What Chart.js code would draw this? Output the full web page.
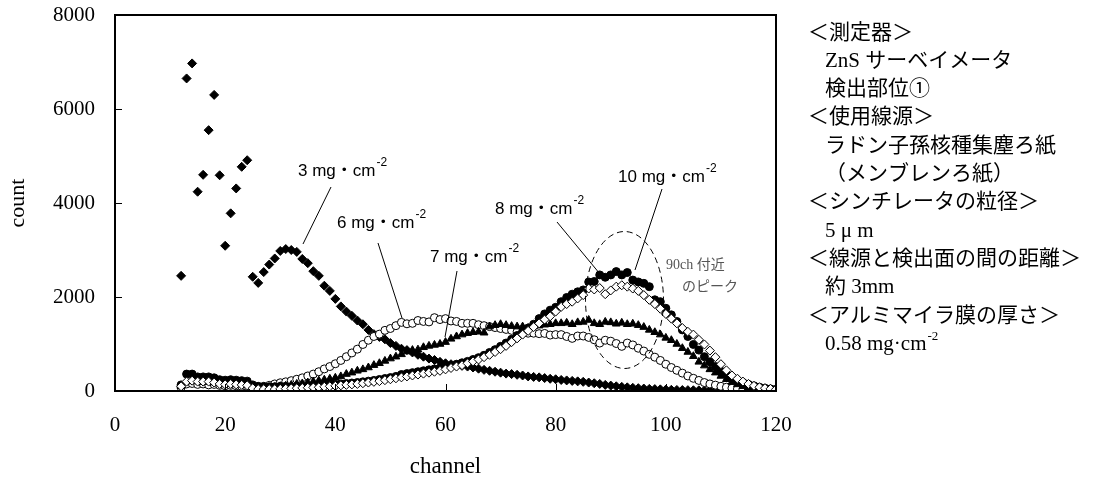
<!DOCTYPE html>
<html>
<head>
<meta charset="utf-8">
<script src="https://cdn.jsdelivr.net/npm/chart.js@4"></script>
<style>
  body { margin: 0; background: #fff; }
  canvas { display: block; }
</style>
</head>
<body>
<canvas id="spectrumChart" width="1115" height="481"></canvas>
<script>
// channel 12 .. 120
const channels = [
    12, 13, 14, 15, 16, 17, 18, 19, 20, 21,
    22, 23, 24, 25, 26, 27, 28, 29, 30, 31,
    32, 33, 34, 35, 36, 37, 38, 39, 40, 41,
    42, 43, 44, 45, 46, 47, 48, 49, 50, 51,
    52, 53, 54, 55, 56, 57, 58, 59, 60, 61,
    62, 63, 64, 65, 66, 67, 68, 69, 70, 71,
    72, 73, 74, 75, 76, 77, 78, 79, 80, 81,
    82, 83, 84, 85, 86, 87, 88, 89, 90, 91,
    92, 93, 94, 95, 96, 97, 98, 99, 100, 101,
    102, 103, 104, 105, 106, 107, 108, 109, 110, 111,
    112, 113, 114, 115, 116, 117, 118, 119, 120
];

const counts3mg = [
    2450, 6650, 6970, 4240, 4600, 5550, 6300, 4590, 3090, 3780,
    4310, 4770, 4910, 2430, 2300, 2530, 2690, 2820, 2980, 3020,
    3000, 2960, 2810, 2720, 2550, 2450, 2240, 2130, 1960, 1800,
    1690, 1600, 1500, 1420, 1300, 1210, 1150, 1100, 1020, 960,
    900, 870, 820, 770, 730, 690, 660, 620, 590, 570,
    550, 535, 520, 500, 475, 450, 430, 410, 390, 370,
    360, 345, 330, 310, 300, 290, 275, 260, 250, 235,
    225, 215, 205, 195, 180, 165, 150, 130, 115, 100,
    88, 78, 68, 60, 52, 45, 40, 35, 30, 25,
    22, 20, 18, 16, 14, 12, 10, 10, 8, 8,
    6, 6, 5, 5, 4, 4, 3, 3, 3
];

const counts6mg = [
    80, 150, 160, 140, 150, 130, 140, 120, 110, 120,
    110, 100, 100, 80, 80, 100, 120, 150, 175, 195,
    220, 250, 280, 320, 360, 410, 470, 520, 580, 650,
    730, 810, 890, 990, 1080, 1160, 1210, 1290, 1330, 1390,
    1460, 1430, 1440, 1500, 1480, 1470, 1560, 1520, 1540, 1490,
    1480, 1440, 1440, 1440, 1410, 1390, 1370, 1350, 1330, 1310,
    1290, 1260, 1240, 1230, 1230, 1220, 1225, 1190, 1200, 1200,
    1160, 1120, 1170, 1170, 1140, 1090, 1020, 1080, 1060, 1010,
    950, 1020, 980, 910, 850, 780, 720, 650, 570, 500,
    440, 380, 320, 270, 225, 180, 150, 125, 100, 80,
    60, 45, 35, 25, 20, 15, 10, 8, 5
];

const counts7mg = [
    100, 200, 220, 200, 190, 200, 180, 170, 160, 150,
    160, 140, 130, 80, 60, 60, 70, 80, 100, 110,
    130, 150, 160, 180, 200, 220, 240, 260, 280, 310,
    360, 390, 430, 460, 500, 550, 590, 640, 690, 730,
    780, 840, 870, 880, 930, 960, 980, 1000, 1040, 1110,
    1160, 1200, 1230, 1250, 1260, 1240, 1370, 1400, 1420, 1400,
    1380, 1370, 1370, 1340, 1380, 1390, 1410, 1420, 1440, 1440,
    1450, 1420, 1460, 1470, 1510, 1440, 1420, 1470, 1460, 1430,
    1450, 1420, 1430, 1400, 1360, 1300, 1250, 1200, 1130, 1080,
    1000, 910, 830, 740, 620, 540, 460, 390, 320, 250,
    190, 140, 100, 70, 45, 30, 20, 12, 8
];

const counts8mg = [
    100, 200, 220, 200, 200, 200, 180, 150, 140, 150,
    140, 130, 120, 60, 40, 40, 40, 40, 45, 50,
    55, 60, 65, 70, 75, 80, 90, 100, 110, 120,
    130, 140, 150, 165, 180, 195, 210, 230, 250, 270,
    290, 310, 330, 350, 370, 390, 410, 430, 460, 490,
    520, 550, 590, 630, 670, 720, 770, 830, 890, 960,
    1040, 1120, 1200, 1280, 1360, 1440, 1520, 1590, 1690, 1790,
    1850, 1900, 1970, 2040, 2180, 2160, 2190, 2060, 2140, 2220,
    2250, 2220, 2180, 2130, 2040, 1940, 1850, 1750, 1640, 1540,
    1440, 1340, 1260, 1200, 1090, 990, 860, 720, 570, 440,
    330, 260, 200, 150, 110, 80, 60, 45, 35
];

const counts10mg = [
    130, 360, 360, 300, 300, 300, 280, 240, 230, 240,
    230, 220, 210, 130, 100, 90, 90, 90, 100, 100,
    90, 90, 95, 100, 105, 110, 120, 130, 140, 150,
    160, 170, 180, 195, 210, 225, 245, 265, 285, 310,
    350, 370, 390, 410, 430, 450, 470, 490, 510, 540,
    570, 600, 630, 670, 710, 760, 820, 880, 950, 1020,
    1100, 1180, 1260, 1340, 1420, 1540, 1640, 1720, 1780, 1900,
    1990, 2060, 2110, 2150, 2320, 2330, 2470, 2420, 2470, 2540,
    2470, 2520, 2360, 2320, 2290, 2220, 1940, 1900, 1760, 1620,
    1480, 1300, 1160, 990, 870, 730, 620, 520, 420, 350,
    280, 220, 180, 140, 110, 80, 60, 45, 35
];

const xTicks = [0, 20, 40, 60, 80, 100, 120];
const yTicks = [0, 2000, 4000, 6000, 8000];

// right-hand notes
const noteLines = [
    { text: '＜測定器＞', indent: false },
    { text: 'ZnS サーベイメータ', indent: true },
    { text: '検出部位①', indent: true },
    { text: '＜使用線源＞', indent: false },
    { text: 'ラドン子孫核種集塵ろ紙', indent: true },
    { text: '（メンブレンろ紙）', indent: true },
    { text: '＜シンチレータの粒径＞', indent: false },
    { text: '5 μ m', indent: true },
    { text: '＜線源と検出面の間の距離＞', indent: false },
    { text: '約 3mm', indent: true },
    { text: '＜アルミマイラ膜の厚さ＞', indent: false },
    { text: '0.58 mg·cm', sup: '-2', indent: true }
];

// curve labels with leader lines
const curveLabels = [
    { text: '3 mg・cm', x: 298, y: 171, from: [331, 187], to: [303, 244] },
    { text: '6 mg・cm', x: 337, y: 223, from: [378, 243], to: [402, 318] },
    { text: '7 mg・cm', x: 430, y: 257, from: [457, 271], to: [445, 337] },
    { text: '8 mg・cm', x: 495, y: 209, from: [557, 222], to: [600, 274] },
    { text: '10 mg・cm', x: 618, y: 177, from: [662, 189], to: [635, 270] }
];

function toPoints(values) {
    return values.map((v, i) => ({ x: channels[i], y: v }));
}

const serif = '"Liberation Serif", "Times New Roman", serif';
const labelFont = '17px "Liberation Sans", "Noto Sans CJK JP", sans-serif';

const annotationPlugin = {
    id: 'annotations',
    afterDraw(chart) {
        const ctx = chart.ctx;
        const { left, right, top, bottom } = chart.chartArea;
        const xs = chart.scales.x;
        const ys = chart.scales.y;

        ctx.save();
        // frame
        ctx.strokeStyle = '#000';
        ctx.lineWidth = 2;
        ctx.strokeRect(left, top, right - left, bottom - top);

        // inward tick marks
        ctx.lineWidth = 1;
        ctx.beginPath();
        xTicks.slice(1, -1).forEach(v => {
            const px = Math.round(xs.getPixelForValue(v)) + 0.5;
            ctx.moveTo(px, bottom);
            ctx.lineTo(px, bottom - 7);
        });
        yTicks.slice(1, -1).forEach(v => {
            const py = Math.round(ys.getPixelForValue(v)) + 0.5;
            ctx.moveTo(left, py);
            ctx.lineTo(left + 7, py);
        });
        ctx.stroke();

        // curve labels
        ctx.fillStyle = '#000';
        ctx.textBaseline = 'middle';
        ctx.textAlign = 'left';
        curveLabels.forEach(l => {
            ctx.font = labelFont;
            ctx.fillText(l.text, l.x, l.y);
            const w = ctx.measureText(l.text).width;
            ctx.font = '12px "Liberation Sans", sans-serif';
            ctx.fillText('-2', l.x + w + 1, l.y - 8);
            ctx.beginPath();
            ctx.moveTo(l.from[0], l.from[1]);
            ctx.lineTo(l.to[0], l.to[1]);
            ctx.stroke();
        });

        // dashed ellipse around the 90ch peak
        ctx.setLineDash([6, 4]);
        ctx.beginPath();
        ctx.ellipse(624.5, 300, 39, 68.5, 0, 0, Math.PI * 2);
        ctx.stroke();
        ctx.setLineDash([]);

        ctx.fillStyle = '#555';
        ctx.font = '14px ' + serif + ', "Noto Sans CJK JP"';
        ctx.fillText('90ch 付近', 666, 265);
        ctx.fillText('のピーク', 682, 287);

        // notes on the right
        ctx.fillStyle = '#000';
        noteLines.forEach((line, i) => {
            const x = line.indent ? 825 : 808;
            const y = 33 + i * 28.3;
            ctx.font = '21px ' + serif + ', "Noto Sans CJK JP"';
            ctx.fillText(line.text, x, y);
            if (line.sup) {
                const w = ctx.measureText(line.text).width;
                ctx.font = '13px ' + serif;
                ctx.fillText(line.sup, x + w + 1, y - 8);
            }
        });
        ctx.restore();
    }
};

const ctx = document.getElementById('spectrumChart').getContext('2d');
const spectrumChart = new Chart(ctx, {
    type: 'scatter',
    data: {
        datasets: [
            {
                label: '8 mg',
                data: toPoints(counts8mg),
                pointStyle: 'rectRot',
                pointRadius: 4.5,
                backgroundColor: '#fff',
                borderColor: '#000',
                borderWidth: 1
            },
            {
                label: '10 mg',
                data: toPoints(counts10mg),
                pointStyle: 'circle',
                pointRadius: 4,
                backgroundColor: '#000',
                borderColor: '#000',
                borderWidth: 1
            },
            {
                label: '7 mg',
                data: toPoints(counts7mg),
                pointStyle: 'triangle',
                pointRadius: 4.5,
                backgroundColor: '#000',
                borderColor: '#000',
                borderWidth: 1
            },
            {
                label: '6 mg',
                data: toPoints(counts6mg),
                pointStyle: 'circle',
                pointRadius: 4,
                backgroundColor: '#fff',
                borderColor: '#000',
                borderWidth: 1
            },
            {
                label: '3 mg',
                data: toPoints(counts3mg),
                pointStyle: 'rectRot',
                pointRadius: 4.5,
                backgroundColor: '#000',
                borderColor: '#000',
                borderWidth: 1
            }
        ]
    },
    options: {
        responsive: false,
        animation: false,
        events: [],
        layout: {
            padding: { top: 15, right: 339, left: 0, bottom: 0 }
        },
        plugins: {
            legend: { display: false },
            tooltip: { enabled: false }
        },
        scales: {
            x: {
                type: 'linear',
                min: 0,
                max: 120,
                afterBuildTicks: scale => {
                    scale.ticks = xTicks.map(v => ({ value: v }));
                },
                afterFit: scale => {
                    scale.height = 90;
                    scale.paddingLeft = 0;
                    scale.paddingRight = 0;
                },
                ticks: {
                    color: '#000',
                    padding: 22,
                    maxRotation: 0,
                    callback: v => String(v),
                    font: { family: serif, size: 21 }
                },
                grid: { display: false, drawTicks: false },
                border: { display: true, color: '#000', width: 2 },
                title: {
                    display: true,
                    text: 'channel',
                    color: '#000',
                    padding: { top: 0, bottom: 0 },
                    font: { family: serif, size: 23 }
                }
            },
            y: {
                type: 'linear',
                min: 0,
                max: 8000,
                afterBuildTicks: scale => {
                    scale.ticks = yTicks.map(v => ({ value: v }));
                },
                afterFit: scale => {
                    scale.width = 115;
                    scale.paddingTop = 0;
                    scale.paddingBottom = 0;
                },
                ticks: {
                    color: '#000',
                    padding: 20,
                    callback: v => String(v),
                    font: { family: serif, size: 21 }
                },
                grid: { display: false, drawTicks: false },
                border: { display: true, color: '#000', width: 2 },
                title: {
                    display: true,
                    text: 'count',
                    color: '#000',
                    padding: { top: 5, bottom: 0 },
                    font: { family: serif, size: 22 }
                }
            }
        }
    },
    plugins: [annotationPlugin]
});
</script>
</body>
</html>
